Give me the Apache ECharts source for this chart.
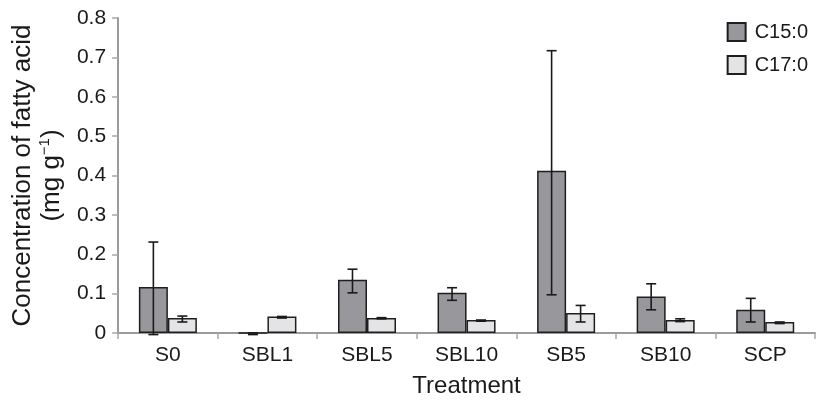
<!DOCTYPE html>
<html>
<head>
<meta charset="utf-8">
<script src="https://cdn.jsdelivr.net/npm/echarts@6/dist/echarts.min.js"></script>
<style>html,body{margin:0;padding:0;background:#fff}#c{width:816px;height:403px}</style>
</head>
<body>
<div id="c"></div>
<script>
const categories = ['S0', 'SBL1', 'SBL5', 'SBL10', 'SB5', 'SB10', 'SCP'];
const c15 = [0.117, 0, 0.135, 0.102, 0.412, 0.093, 0.059];
const c15Low = [-0.004, -0.004, 0.102, 0.083, 0.097, 0.059, 0.028];
const c15High = [0.231, 0, 0.162, 0.115, 0.717, 0.125, 0.088];
const c17 = [0.038, 0.042, 0.038, 0.033, 0.051, 0.033, 0.028];
const c17Low = [0.028, 0.038, 0.036, 0.030, 0.028, 0.029, 0.024];
const c17High = [0.043, 0.042, 0.039, 0.033, 0.070, 0.036, 0.028];
const yTicks = { min: 0, max: 0.8, interval: 0.1 };

const FONT = 'Liberation Sans, Arial, Helvetica, sans-serif';
const BAR_W = 29;
const CAP = 5;

function errData(lo, hi) { return categories.map((c, i) => [i, lo[i], hi[i]]); }
function errSeries(lo, hi, offset) {
  return {
    type: 'custom',
    data: errData(lo, hi),
    encode: { x: 0, y: [1, 2] },
    z: 5,
    silent: true,
    renderItem: function (params, api) {
      const i = api.value(0);
      const a = api.coord([i, api.value(1)]);
      const b = api.coord([i, api.value(2)]);
      const x = a[0] + offset;
      const st = { stroke: '#1a1a1a', lineWidth: 1.6 };
      return {
        type: 'group',
        children: [
          { type: 'line', shape: { x1: x, y1: a[1], x2: x, y2: b[1] }, style: st },
          { type: 'line', shape: { x1: x - CAP, y1: a[1], x2: x + CAP, y2: a[1] }, style: st },
          { type: 'line', shape: { x1: x - CAP, y1: b[1], x2: x + CAP, y2: b[1] }, style: st }
        ]
      };
    }
  };
}

const chart = echarts.init(document.getElementById('c'));
chart.setOption({
  animation: false,
  textStyle: { fontFamily: FONT },
  grid: { left: 112, right: 1, top: 18, bottom: 66, containLabel: false },
  legend: {
    orient: 'vertical', right: 3, top: 17,
    itemWidth: 18, itemHeight: 18, itemGap: 13,
    icon: 'rect',
    textStyle: { fontSize: 20, color: '#1a1a1a', fontFamily: FONT, padding: [0, 0, 0, 4] },
    data: ['C15:0', 'C17:0']
  },
  xAxis: {
    type: 'category',
    data: categories,
    name: 'Treatment',
    nameLocation: 'middle',
    nameGap: 41,
    nameTextStyle: { fontSize: 24, color: '#1a1a1a', fontFamily: FONT },
    axisLine: { lineStyle: { color: '#9b9b9b', width: 2 } },
    axisTick: { show: true, length: 6, lineStyle: { color: '#a8a8a8', width: 1.5 } },
    axisLabel: { fontSize: 21, color: '#1a1a1a', margin: 12, fontFamily: FONT }
  },
  yAxis: {
    type: 'value',
    min: yTicks.min, max: yTicks.max, interval: yTicks.interval,
    name: '{a|Concentration of fatty acid}\n{a|(mg g}{s|−1}{a|)}',
    nameLocation: 'middle',
    nameRotate: 90,
    nameGap: 48,
    nameTextStyle: {
      fontFamily: FONT, color: '#1a1a1a', lineHeight: 29,
      rich: {
        a: { fontSize: 26, color: '#1a1a1a', fontFamily: FONT, lineHeight: 29 },
        s: { fontSize: 15, color: '#1a1a1a', fontFamily: FONT, lineHeight: 29, verticalAlign: 'top', padding: [0, 0, 6, 0] }
      }
    },
    splitLine: { show: false },
    axisLine: { show: true, lineStyle: { color: '#9b9b9b', width: 2 } },
    axisTick: { show: true, length: 6, lineStyle: { color: '#a8a8a8', width: 1.5 } },
    axisLabel: { fontSize: 21, color: '#1a1a1a', margin: 12, fontFamily: FONT }
  },
  series: [
    {
      name: 'C15:0', type: 'bar', data: c15, barWidth: BAR_W, barGap: '0%',
      itemStyle: { color: '#98979c', borderColor: '#1e1e1e', borderWidth: 1.5 }
    },
    {
      name: 'C17:0', type: 'bar', data: c17, barWidth: BAR_W, barGap: '0%',
      itemStyle: { color: '#e4e4e6', borderColor: '#1e1e1e', borderWidth: 1.5 }
    },
    errSeries(c15Low, c15High, -BAR_W / 2),
    errSeries(c17Low, c17High, BAR_W / 2)
  ]
});
</script>
</body>
</html>
